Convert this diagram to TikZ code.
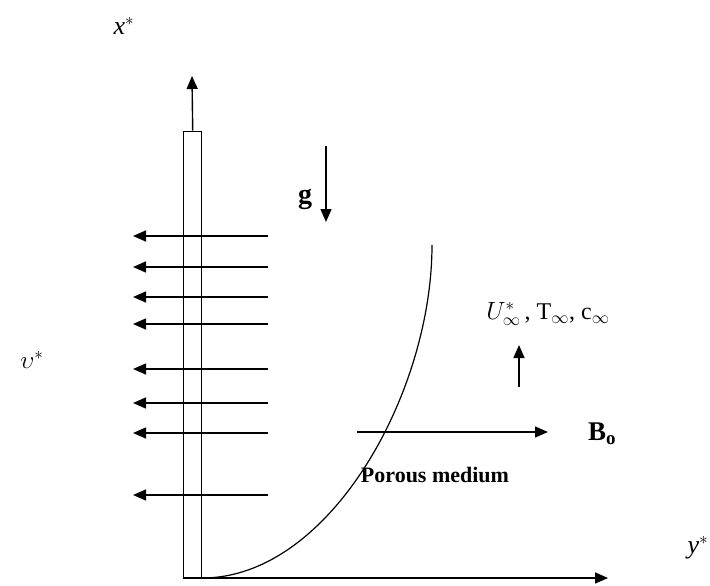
\documentclass[tikz,border=0pt]{standalone}
\usepackage{fontspec}
\setmainfont{Liberation Serif}
\usetikzlibrary{arrows.meta}

\begin{document}
\begin{tikzpicture}[
  x=1pt, y=-1pt,
  >={Triangle[length=13pt,width=11pt]},
  line width=1.4pt,
  flow/.style={->},
  lbl/.style={font=\fontsize{22}{26}\selectfont, inner sep=0pt},
  bigl/.style={font=\fontsize{26}{30}\selectfont, inner sep=0pt},
]
\useasboundingbox (0,0) rectangle (710,586);

% === plate and axes ===
\node[draw, line width=1.4pt, minimum width=18pt, minimum height=446pt,
  inner sep=0pt, anchor=south west] (plate) at (183,578) {};
\coordinate (xtip) at (192,76);
\coordinate (ytip) at (608,578);
\draw[->] (plate.north) -- (xtip);
\draw[->] (plate.south west) -- (ytip);

% === suction arrows ===
\foreach \yy [count=\i] in {236,267,297,324,369,403,433,495} {
  \coordinate (sa\i) at (268,\yy);
  \coordinate (sb\i) at (133,\yy);
  \draw[flow] (sa\i) -- (sb\i);
}

% === boundary layer edge ===
\coordinate (blend) at (432,245);
\draw[line width=1.2pt] (plate.south east) .. controls (329,578) and (432,394) .. (blend);

% === gravity ===
\coordinate (ga) at (326,146);
\coordinate (gb) at (326,222);
\draw[flow] (ga) -- (gb);
\node[lbl, font=\fontsize{28}{32}\selectfont\bfseries] (glbl) at (305,199) {g};

% === free stream ===
\coordinate (ua) at (519,387);
\coordinate (ub) at (519,345);
\draw[flow] (ua) -- (ub);
\node[lbl, font=\fontsize{24}{28}\selectfont] (ulbl) at (548,314)
  {$U^{*}_{\infty}$\,, T$_{\infty}$, c$_{\infty}$};

% === magnetic field ===
\coordinate (ba) at (357,432);
\coordinate (bb) at (548,432);
\draw[flow] (ba) -- (bb);
\node[lbl, font=\fontsize{27}{31}\selectfont\bfseries] (blbl) at (602,434) {B$_{\mathbf{o}}$};

\node[lbl, font=\fontsize{22}{26}\selectfont\bfseries] (porous) at (435,475) {Porous medium};

% === axis labels ===
\node[bigl] (xlbl) at (124,26) {\textit{x}$^{*}$};
\node[bigl] (vlbl) at (32,360) {$\upsilon^{*}$};
\node[bigl, anchor=east] (ylbl) at (709,548) {\textit{y}$^{*}$};

\end{tikzpicture}
\end{document}
